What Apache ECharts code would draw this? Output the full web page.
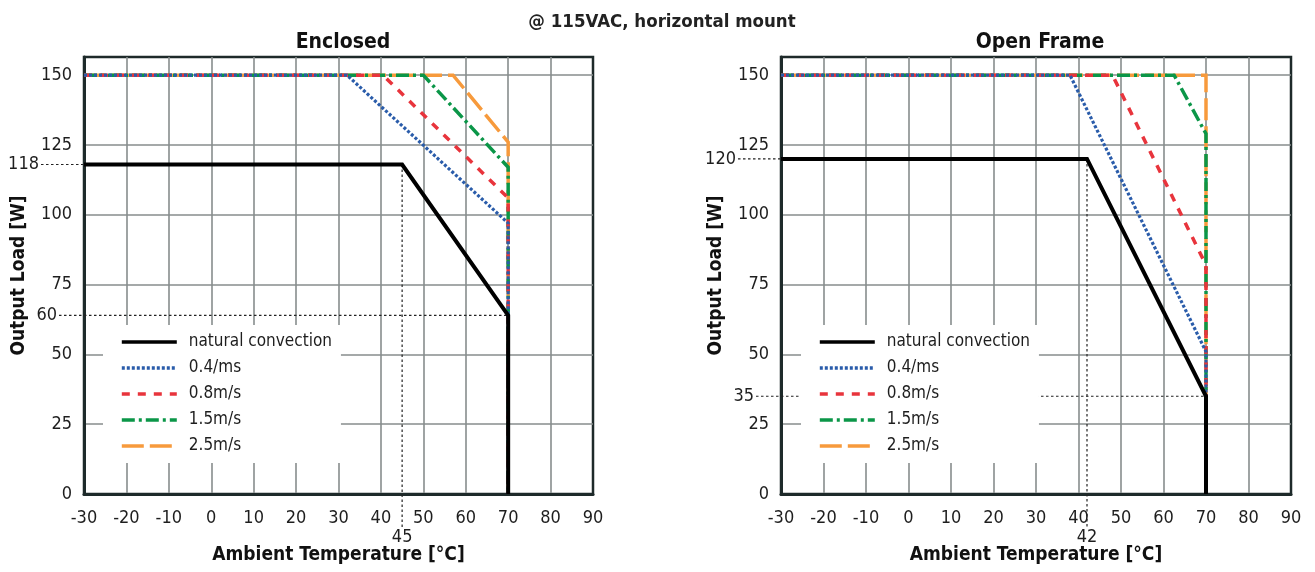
<!DOCTYPE html>
<html>
<head>
<meta charset="utf-8">
<script src="https://cdn.jsdelivr.net/npm/echarts@6/dist/echarts.min.js"></script>
<style>
html,body{margin:0;padding:0;background:#fff;}
#chart{width:1315px;height:572px;}
</style>
</head>
<body>
<div id="chart"></div>
<script>
// ---------- data ----------
const seriesNames = ['natural convection', '0.4/ms', '0.8m/s', '1.5m/s', '2.5m/s'];

// Enclosed
const encNatural = [[-30, 118], [45, 118], [70, 64], [70, 0]];
const enc04 = [[-30, 150], [32, 150], [70, 97], [70, 0]];
const enc08 = [[-30, 150], [40.5, 150], [70, 106], [70, 0]];
const enc15 = [[-30, 150], [50, 150], [70, 117], [70, 0]];
const enc25 = [[-30, 150], [57, 150], [70, 126], [70, 0]];
const encHRefs = [[45, 118], [70, 64]];
const encHRefLabels = ['118', '60'];
const encVRefs = [[45, 118]];
const encVRefLabels = ['45'];

// Open Frame
const openNatural = [[-30, 120], [42, 120], [70, 35], [70, 0]];
const open04 = [[-30, 150], [38, 150], [70, 51], [70, 0]];
const open08 = [[-30, 150], [48, 150], [70, 82], [70, 0]];
const open15 = [[-30, 150], [62.5, 150], [70, 129], [70, 0]];
const open25 = [[-30, 150], [70, 150], [70, 0]];
const openHRefs = [[42, 120], [70, 35]];
const openHRefLabels = ['120', '35'];
const openVRefs = [[42, 120]];
const openVRefLabels = ['42'];

const mainTitle = '@ 115VAC, horizontal mount';
const panelTitles = ['Enclosed', 'Open Frame'];
const xName = 'Ambient Temperature [°C]';
const yName = 'Output Load [W]';

// ---------- styles ----------
const FONT = "'Liberation Sans Narrow', 'DejaVu Sans Condensed', 'Liberation Sans', sans-serif";
const TXT = '#1e1e1e';
const DARK = '#1e2a2a';
const GRIDC = '#878d8d';
const styles = [
  {color: '#000000', width: 4, type: 'solid'},
  {color: '#2a5caa', width: 3.2, type: [3, 2]},
  {color: '#e8343c', width: 3.5, type: [8, 8]},
  {color: '#0b9648', width: 3.5, type: [13, 4, 3, 4]},
  {color: '#f79a3c', width: 3.5, type: [22, 6]}
];

function hRefRender(labels) {
  return function (params, api) {
    const p = api.coord([api.value(0), api.value(1)]);
    const axisX = params.coordSys.x;
    const lab = labels[params.dataIndex];
    const out = lab.length >= 3 ? 45 : 27;
    return {
      type: 'group', children: [
        {type: 'line', shape: {x1: axisX - out + 2, y1: p[1], x2: p[0], y2: p[1]},
          style: {stroke: '#222', lineWidth: 1.2, lineDash: [2.5, 2.5]}},
        {type: 'text', style: {text: lab, x: axisX - out, y: p[1], align: 'right', verticalAlign: 'middle',
          fontSize: 18, fontFamily: FONT, fill: TXT}}
      ]
    };
  };
}
function vRefRender(labels) {
  return function (params, api) {
    const p = api.coord([api.value(0), api.value(1)]);
    const bottom = params.coordSys.y + params.coordSys.height;
    const lab = labels[params.dataIndex];
    return {
      type: 'group', children: [
        {type: 'line', shape: {x1: p[0], y1: p[1], x2: p[0], y2: bottom + 34},
          style: {stroke: '#222', lineWidth: 1.2, lineDash: [2.5, 2.5]}},
        {type: 'text', style: {text: lab, x: p[0], y: bottom + 43, align: 'center', verticalAlign: 'middle',
          fontSize: 18, fontFamily: FONT, fill: TXT}}
      ]
    };
  };
}

function lineSeries(name, data, idx, gi) {
  const s = styles[idx];
  return {
    name: name, type: 'line', data: data, xAxisIndex: gi, yAxisIndex: gi,
    symbol: 'none', z: idx === 0 ? 4 : 3, animation: false,
    lineStyle: {color: s.color, width: s.width, type: s.type, cap: 'butt', join: 'miter'},
    itemStyle: {color: s.color}
  };
}

const grids = [
  {left: 84, right: 722, top: 57, bottom: 78},
  {left: 781, right: 24, top: 57, bottom: 78}
];

function xAxis(gi) {
  return {
    type: 'value', gridIndex: gi, min: -30, max: 90, interval: 10,
    name: xName, nameLocation: 'middle', nameGap: 52,
    nameTextStyle: {fontFamily: FONT, fontSize: 19, fontWeight: 'bold', color: '#111'},
    axisLine: {show: true, onZero: false, lineStyle: {color: DARK, width: 3}},
    axisTick: {show: false},
    axisLabel: {margin: 15, fontFamily: FONT, fontSize: 18, color: TXT},
    splitLine: {show: true, showMinLine: false, showMaxLine: false, lineStyle: {color: GRIDC, width: 1.6}}
  };
}
function yAxis(gi) {
  return {
    type: 'value', gridIndex: gi, min: 0, max: 156.5, interval: 25,
    name: yName, nameLocation: 'middle', nameGap: 55,
    nameTextStyle: {fontFamily: FONT, fontSize: 19, fontWeight: 'bold', color: '#111'},
    axisLine: {show: true, onZero: false, lineStyle: {color: DARK, width: 3}},
    axisTick: {show: false},
    axisLabel: {margin: 12, fontFamily: FONT, fontSize: 18, color: TXT,
      formatter: v => (v % 25 === 0 ? String(v) : '')},
    splitLine: {show: true, showMinLine: false, showMaxLine: false,
      lineStyle: {color: [GRIDC, GRIDC, GRIDC, GRIDC, GRIDC, GRIDC, '#222', GRIDC], width: 1.5}}
  };
}
function legend(left) {
  return {
    orient: 'vertical', left: left, top: 325, data: seriesNames,
    backgroundColor: '#ffffff', padding: [8, 9, 8, 17],
    itemWidth: 55, itemHeight: 14, itemGap: 8, selectedMode: false,
    itemStyle: {opacity: 0, borderWidth: 0},
    lineStyle: {width: 3.6},
    textStyle: {fontFamily: FONT, fontSize: 17, lineHeight: 18, color: TXT, padding: [0, 0, 0, 7]}
  };
}

const datasets = [
  [encNatural, enc04, enc08, enc15, enc25],
  [openNatural, open04, open08, open15, open25]
];
const hRefs = [[encHRefs, encHRefLabels], [openHRefs, openHRefLabels]];
const vRefs = [[encVRefs, encVRefLabels], [openVRefs, openVRefLabels]];

const series = [];
for (let gi = 0; gi < 2; gi++) {
  series.push({type: 'custom', xAxisIndex: gi, yAxisIndex: gi, clip: false, z: 1, silent: true,
    data: hRefs[gi][0], renderItem: hRefRender(hRefs[gi][1])});
  series.push({type: 'custom', xAxisIndex: gi, yAxisIndex: gi, clip: false, z: 1, silent: true,
    data: vRefs[gi][0], renderItem: vRefRender(vRefs[gi][1])});
  for (let i = 4; i >= 0; i--) {
    series.push(lineSeries(seriesNames[i], datasets[gi][i], i, gi));
  }
}

const chart = echarts.init(document.getElementById('chart'), null, {renderer: 'canvas'});
chart.setOption({
  animation: false,
  backgroundColor: '#ffffff',
  title: [
    {text: mainTitle, left: 657, top: 8, textAlign: 'center',
      textStyle: {fontFamily: FONT, fontSize: 18.5, fontWeight: 'bold', color: '#222'}},
    {text: panelTitles[0], left: 338, top: 27, textAlign: 'center',
      textStyle: {fontFamily: FONT, fontSize: 21, fontWeight: 'bold', color: '#111'}},
    {text: panelTitles[1], left: 1035, top: 27, textAlign: 'center',
      textStyle: {fontFamily: FONT, fontSize: 21, fontWeight: 'bold', color: '#111'}}
  ],
  grid: grids.map(g => Object.assign({show: true, borderColor: DARK, borderWidth: 2.5, backgroundColor: 'transparent'}, g)),
  xAxis: [xAxis(0), xAxis(1)],
  yAxis: [yAxis(0), yAxis(1)],
  legend: [legend(103), legend(801)],
  series: series
});
</script>
</body>
</html>
